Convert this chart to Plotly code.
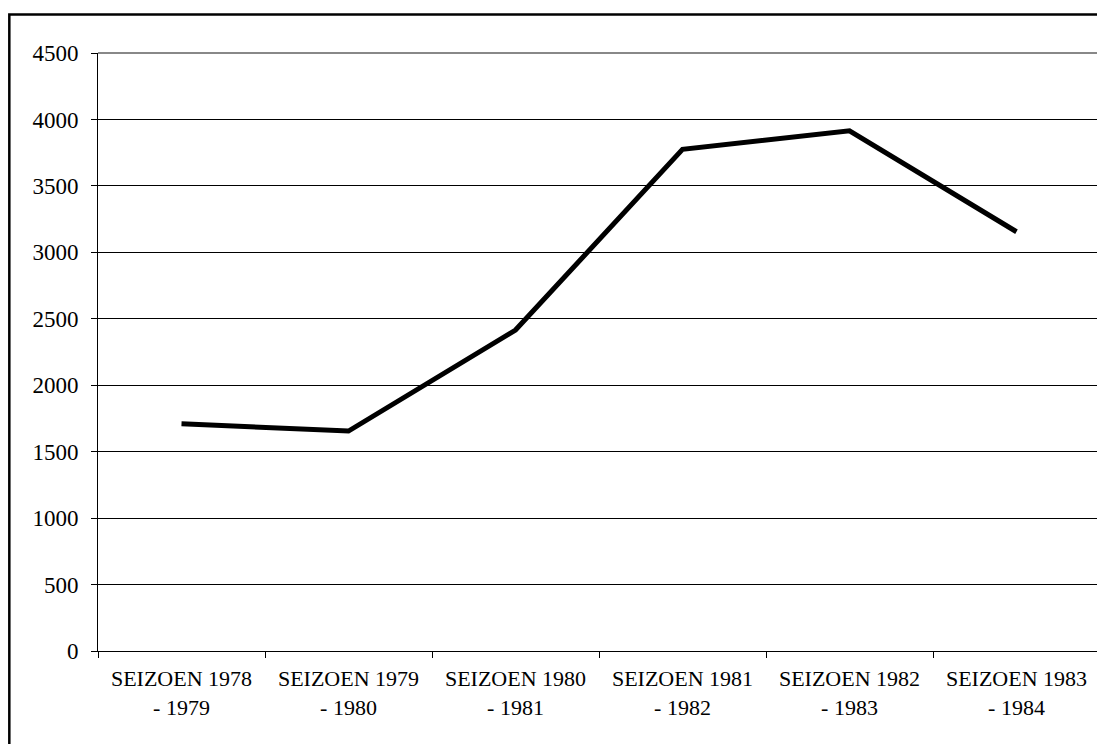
import plotly.graph_objects as go

categories = ["SEIZOEN 1978<br>- 1979", "SEIZOEN 1979<br>- 1980", "SEIZOEN 1980<br>- 1981",
              "SEIZOEN 1981<br>- 1982", "SEIZOEN 1982<br>- 1983", "SEIZOEN 1983<br>- 1984"]
values = [1710, 1655, 2415, 3775, 3915, 3155]
y_ticks = [0, 500, 1000, 1500, 2000, 2500, 3000, 3500, 4000, 4500]

fam = "Liberation Serif, Times New Roman, serif"
xfont = dict(family=fam, size=22, color="black")
yfont = dict(family=fam, size=23, color="black")

fig = go.Figure()
fig.add_trace(go.Scatter(x=categories, y=values, mode="lines",
                         line=dict(color="black", width=5), hoverinfo="skip"))

fig.update_layout(
    width=1105, height=744,
    margin=dict(l=90, r=13, t=45, b=101),
    paper_bgcolor="white", plot_bgcolor="white",
    showlegend=False,
    font=xfont,
    xaxis=dict(type="category", tickson="boundaries", ticks="outside", ticklen=6,
               tickcolor="black", tickwidth=1, showline=True, linecolor="black",
               linewidth=1, showgrid=False, tickfont=xfont, range=[-0.5, 5.5],
               ticklabelstandoff=8),
    yaxis=dict(range=[0, 4500], tickvals=y_ticks, ticks="outside", ticklen=6,
               tickcolor="black", tickwidth=1, showline=True, linecolor="black",
               linewidth=1, showgrid=True, gridcolor="black", gridwidth=1,
               tickfont=yfont, zeroline=False, ticklabelstandoff=8),
)

# gray plot-area border (top and right)
fig.add_shape(type="line", xref="paper", yref="paper", x0=0, x1=1, y0=1, y1=1,
              line=dict(color="#888888", width=2))
fig.add_shape(type="line", xref="paper", yref="paper", x0=1, x1=1, y0=0, y1=1,
              line=dict(color="#888888", width=2))
# outer chart border
fig.add_shape(type="rect", xref="paper", yref="paper", x0=-0.0885, x1=1.05,
              y0=-0.3, y1=1.0645, line=dict(color="black", width=2.5),
              layer="below")

fig.write_html("out.html")
